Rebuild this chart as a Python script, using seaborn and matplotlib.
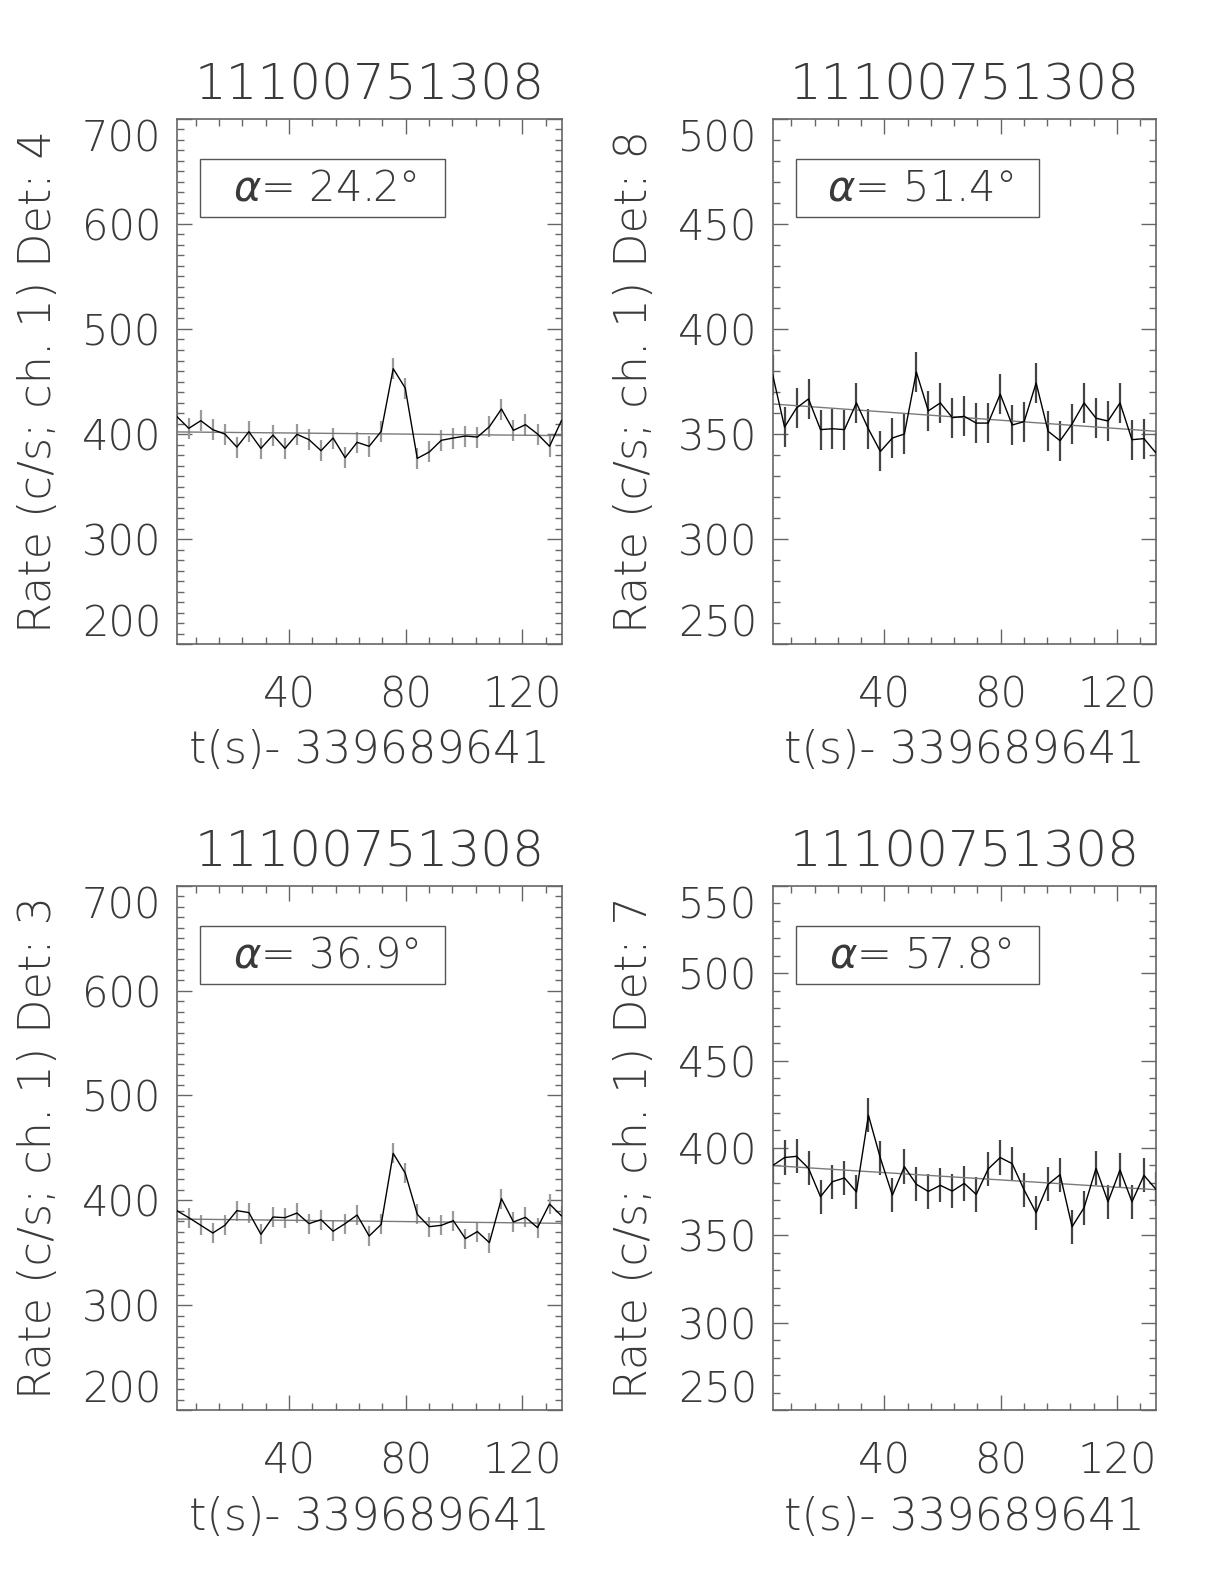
import numpy as np
import pandas as pd
import matplotlib
matplotlib.use("Agg")
import matplotlib.pyplot as plt
from matplotlib.ticker import MultipleLocator
from matplotlib.patches import Rectangle
import seaborn as sns

# ---------------- data ----------------
title_text = "11100751308"
xlabel_text = "t(s)- 339689641"

times = [1.5, 5.625, 9.75, 13.875, 18.0, 22.125, 26.25, 30.375, 34.5, 38.625,
         42.75, 46.875, 51.0, 55.125, 59.25, 63.375, 67.5, 71.625, 75.75, 79.875,
         84.0, 88.125, 92.25, 96.375, 100.5, 104.625, 108.75, 112.875, 117.0,
         121.125, 125.25, 129.375, 133.5]

rate_det4 = [416.8, 405.4, 412.7, 404.1, 400.0, 387.6, 402.2, 386.3, 399.0, 386.3,
             399.7, 394.6, 384.1, 396.2, 377.5, 392.1, 388.3, 402.5, 462.2, 443.8,
             376.8, 382.9, 394.0, 396.2, 398.1, 397.1, 407.0, 423.8, 403.5, 408.9,
             400.0, 388.3, 413.0]
rate_det8 = [378.3, 353.3, 362.4, 366.7, 352.1, 352.5, 352.1, 364.8, 352.4, 341.7,
             348.1, 350.0, 379.5, 361.0, 364.8, 357.8, 358.4, 355.2, 355.2, 369.0,
             354.3, 355.9, 374.3, 351.3, 346.8, 354.8, 364.8, 357.5, 356.2, 364.8,
             347.3, 347.8, 341.0]
rate_det3 = [390.2, 383.5, 376.2, 368.9, 376.2, 390.2, 388.3, 367.6, 384.1, 383.5,
             387.9, 377.8, 381.6, 370.5, 377.8, 386.0, 366.0, 377.1, 444.8, 426.0,
             386.7, 374.9, 376.2, 380.6, 363.5, 370.2, 359.7, 401.6, 379.4, 383.8,
             374.0, 396.5, 385.1]
rate_det7 = [389.9, 394.5, 395.2, 388.3, 372.1, 380.7, 382.8, 374.8, 418.7, 394.1,
             373.0, 389.3, 379.2, 375.1, 378.6, 375.3, 379.7, 373.4, 388.0, 394.5,
             391.0, 375.9, 362.9, 379.2, 384.7, 354.9, 365.8, 388.3, 369.2, 387.4,
             369.2, 384.3, 376.3]

err_det4 = [10.0] * 33
err_det8 = [9.5] * 33
err_det3 = [9.6] * 33
err_det7 = [9.8] * 33

# linear background fit end points (start, end)
fit_det4 = [402.0, 398.5]
fit_det8 = [364.3, 351.3]
fit_det3 = [382.2, 378.1]
fit_det7 = [389.9, 376.1]

detectors = ["4", "8", "3", "7"]
alphas = ["24.2", "51.4", "36.9", "57.8"]
ylims = [(200, 700), (250, 500), (200, 700), (250, 550)]
ymajor = [100, 50, 100, 50]
rates = [rate_det4, rate_det8, rate_det3, rate_det7]
errs = [err_det4, err_det8, err_det3, err_det7]
fits = [fit_det4, fit_det8, fit_det3, fit_det7]
err_colors = ["#9a9a9a", "#444444", "#9a9a9a", "#444444"]

# ---------------- style ----------------
sns.set_theme(style="ticks")
plt.rcParams["font.family"] = ["DejaVu Sans"]
plt.rcParams["font.weight"] = "light"
plt.rcParams["mathtext.fontset"] = "custom"
plt.rcParams["mathtext.it"] = "DejaVu Sans:italic:light"
plt.rcParams["mathtext.rm"] = "DejaVu Sans:light"
TXT = "#3a3a3a"
FRAME = "#666666"

fig = plt.figure(figsize=(12.24, 15.84), dpi=100)
fig.patch.set_facecolor("white")

positions = [
    [0.1444, 0.5934, 0.3144, 0.3315],
    [0.6312, 0.5934, 0.3132, 0.3315],
    [0.1444, 0.1098, 0.3144, 0.3310],
    [0.6312, 0.1098, 0.3132, 0.3310],
]

for i in range(4):
    ax = fig.add_axes(positions[i])
    df = pd.DataFrame({"t": times, "rate": rates[i], "err": errs[i]})
    ax.vlines(df["t"], df["rate"] - df["err"], df["rate"] + df["err"],
              color=err_colors[i], lw=1.6, zorder=2)
    sns.lineplot(data=df, x="t", y="rate", ax=ax, color="black", lw=1.0,
                 zorder=3, estimator=None, sort=False)
    fit_df = pd.DataFrame({"t": [times[0], times[-1]], "rate": fits[i]})
    sns.lineplot(data=fit_df, x="t", y="rate", ax=ax, color="#7a7a7a", lw=1.0,
                 zorder=2, estimator=None)

    ax.set_xlim(times[0], times[-1])
    ax.set_ylim(*ylims[i])
    ax.xaxis.set_major_locator(MultipleLocator(40))
    ax.xaxis.set_minor_locator(MultipleLocator(8))
    lo, hi = ylims[i]
    ax.set_yticks(list(range(lo, hi + 1, ymajor[i])))
    ax.yaxis.set_minor_locator(MultipleLocator(10))
    ax.set_ylim(*ylims[i])
    ax.tick_params(which="both", direction="in", top=True, right=True,
                   color=FRAME, width=1.0, labelcolor=TXT)
    ax.tick_params(which="major", length=11)
    ax.tick_params(which="minor", length=5)
    ax.tick_params(axis="x", which="major", pad=22, labelsize=30)
    ax.tick_params(axis="y", which="major", pad=11, labelsize=30)
    for lab in ax.get_xticklabels() + ax.get_yticklabels():
        lab.set_fontweight("light")
    ylabs = ax.get_yticklabels()
    ylabs[0].set_verticalalignment("bottom")
    ylabs[-1].set_verticalalignment("top")
    for sp in ax.spines.values():
        sp.set_visible(True)
        sp.set_color(FRAME)
        sp.set_linewidth(1.2)

    ax.set_title(title_text, fontsize=36, color=TXT, pad=14, fontweight="light")
    ax.set_xlabel(xlabel_text, fontsize=32, color=TXT, labelpad=10,
                  fontweight="light")
    ax.set_ylabel("Rate (c/s; ch. 1) Det: " + detectors[i], fontsize=32,
                  color=TXT, labelpad=16, fontweight="light")

    box = Rectangle((0.06, 0.813), 0.636, 0.11, transform=ax.transAxes,
                    fill=False, edgecolor="#555555", lw=1.0, zorder=4)
    ax.add_patch(box)
    ax.text(0.386, 0.868, r"$\alpha$= " + alphas[i] + "°", transform=ax.transAxes,
            ha="center", va="center", fontsize=30, color=TXT,
            fontweight="light", zorder=5)

fig.savefig("out.png", dpi=100, facecolor="white")
